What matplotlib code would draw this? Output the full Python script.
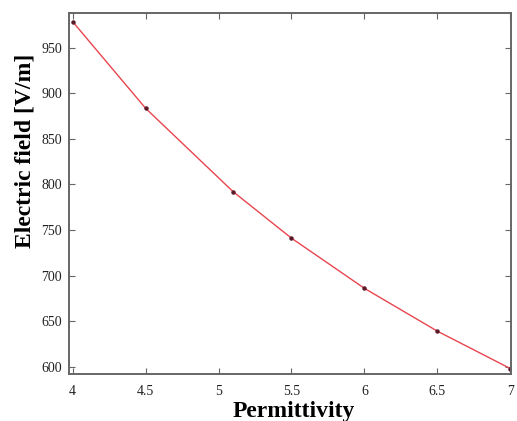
import numpy as np
import matplotlib.pyplot as plt

plt.rcParams['font.family'] = ['Liberation Serif', 'DejaVu Serif']

# Valores
permitividad = [4.0, 4.5, 5.1, 5.5, 6.0, 6.5, 7.0]
campo = [978.5, 883.5, 792, 741, 686, 639, 598]

x_ticks = [4, 4.5, 5, 5.5, 6, 6.5, 7]
x_tick_labels = ['4', '4.5', '5', '5.5', '6', '6.5', '7']
y_ticks = [600, 650, 700, 750, 800, 850, 900, 950]

fig = plt.figure(figsize=(5.17, 4.21), dpi=100)
ax = fig.add_axes([69/517, 1 - 374/421, (511 - 69)/517, (374 - 13)/421])

ax.plot(permitividad, campo, color='#e8454f', linewidth=1.0)
ax.plot(permitividad, campo, 'o', color='#5a1a2a', markersize=2.2)

ax.set_xlim(3.975, 7.005)
ax.set_ylim(592, 988)
ax.set_xticks(x_ticks)
ax.set_xticklabels(x_tick_labels)
ax.set_yticks(y_ticks)

ax.tick_params(direction='in', top=True, right=True, length=4, width=0.8,
               color='#666666', labelsize=10, labelcolor='#222222', pad=5)
ax.tick_params(axis='x', pad=8)
for s in ax.spines.values():
    s.set_color('#666666')
    s.set_linewidth(1.4)

# etiquetas de ejes colocadas como en la figura original
fig.text(294/517, 1 - 417/421, 'Permittivity', fontsize=17, fontweight='bold',
         ha='center', va='baseline')
fig.text(25/517, 1 - 151/421, 'Electric field [V/m]', fontsize=17, fontweight='bold',
         ha='center', va='center', rotation=90)

fig.savefig('out.png', dpi=100)
